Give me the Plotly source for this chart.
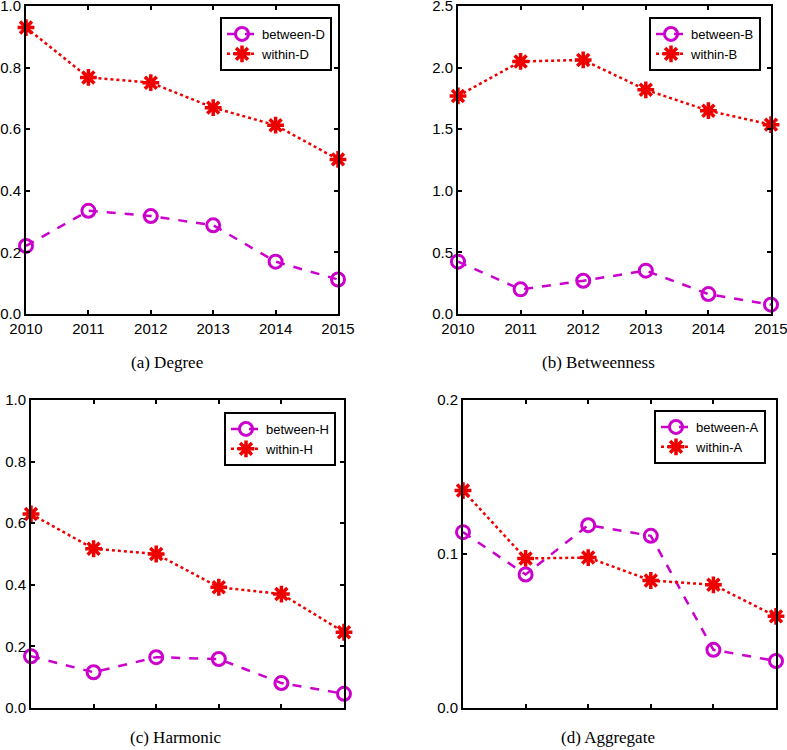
import plotly.graph_objects as go

years = [2010, 2011, 2012, 2013, 2014, 2015]

between_D = [0.221, 0.335, 0.318, 0.288, 0.170, 0.112]
within_D = [0.930, 0.768, 0.751, 0.670, 0.613, 0.502]

between_B = [0.425, 0.200, 0.270, 0.352, 0.162, 0.076]
within_B = [1.770, 2.050, 2.062, 1.820, 1.650, 1.537]

between_H = [0.168, 0.116, 0.165, 0.159, 0.081, 0.046]
within_H = [0.630, 0.517, 0.500, 0.392, 0.370, 0.246]

between_A = [0.1142, 0.0867, 0.1187, 0.1118, 0.0378, 0.0305]
within_A = [0.1412, 0.0971, 0.0977, 0.0828, 0.0800, 0.0595]

panel_titles = ["(a) Degree", "(b) Betweenness", "(c) Harmonic", "(d) Aggregate"]
suffixes = ["D", "B", "H", "A"]
y_ranges = [[0, 1], [0, 2.5], [0, 1], [0, 0.2]]
y_dticks = [0.2, 0.5, 0.2, 0.1]

W, H = 787, 750
MAG = "#cc00cc"
RED = "#ee0000"

# reference pixel boxes: (left, right, top, bottom)
boxes = [(26, 338, 6, 314), (458, 771, 6, 314), (31, 344, 400, 708), (463, 776, 400, 708)]
legend_pos = [(332, 17), (761, 17), (336, 412), (766, 410)]
title_pos = [(167, 362), (598, 362), (176, 737), (608, 737)]


def px(v):
    return v / W


def py(v):
    return 1 - v / H


series = [(between_D, within_D), (between_B, within_B), (between_H, within_H), (between_A, within_A)]

fig = go.Figure()
layout = {}
annotations = []
for i in range(4):
    n = "" if i == 0 else str(i + 1)
    xa, ya = "x" + n, "y" + n
    lg = "legend" + n
    b_vals, w_vals = series[i]
    fig.add_trace(go.Scatter(
        x=years, y=b_vals, mode="lines+markers", name="between-" + suffixes[i],
        xaxis=xa, yaxis=ya, legend=lg, cliponaxis=False,
        line=dict(color=MAG, width=2.5, dash="dash"),
        marker=dict(symbol="circle-open", size=13, color=MAG, line=dict(width=3, color=MAG)),
    ))
    fig.add_trace(go.Scatter(
        x=years, y=w_vals, mode="lines+markers", name="within-" + suffixes[i],
        xaxis=xa, yaxis=ya, legend=lg, cliponaxis=False,
        line=dict(color=RED, width=2.5, dash="dot"),
        marker=dict(symbol="asterisk-open", size=14, color=RED, line=dict(width=3.5, color=RED)),
    ))
    l, r, t, bt = boxes[i]
    show_xlabels = i < 2
    layout["xaxis" + n] = dict(
        domain=[px(l), px(r)], range=[2010, 2015], anchor=ya, automargin=False,
        tickmode="array", tickvals=years, ticktext=[str(y) for y in years] if show_xlabels else [""] * 6,
        ticks="inside", ticklen=4, tickwidth=1.5, tickcolor="black",
        showline=True, linecolor="black", linewidth=2, mirror="ticks",
        showgrid=False, zeroline=False, ticklabeloverflow="allow",
        tickfont=dict(family="Liberation Sans", size=15, color="black"),
    )
    layout["yaxis" + n] = dict(
        domain=[py(bt), py(t)], range=y_ranges[i], anchor=xa, automargin=False,
        dtick=y_dticks[i], tick0=0, tickformat=".1f",
        ticks="inside", ticklen=4, tickwidth=1.5, tickcolor="black",
        showline=True, linecolor="black", linewidth=2, mirror="ticks",
        showgrid=False, zeroline=False, ticklabeloverflow="allow",
        tickfont=dict(family="Liberation Sans", size=15, color="black"),
    )
    lx, ly = legend_pos[i]
    layout[lg] = dict(
        x=px(lx), y=py(ly), xanchor="right", yanchor="top",
        bgcolor="white", bordercolor="black", borderwidth=2,
        font=dict(family="Liberation Sans", size=13, color="black"),
        tracegroupgap=0, itemwidth=30,
    )
    tx, ty = title_pos[i]
    annotations.append(dict(
        text=panel_titles[i], x=px(tx), y=py(ty), xref="paper", yref="paper",
        xanchor="center", yanchor="middle", showarrow=False,
        font=dict(family="Liberation Serif", size=17, color="black"),
    ))

fig.update_layout(
    width=W, height=H, margin=dict(l=0, r=0, t=0, b=0),
    paper_bgcolor="white", plot_bgcolor="white",
    showlegend=True, annotations=annotations, **layout,
)

# remove the page's default 8px body margin so the 787x750 figure fills the window
fig.write_html(
    "out.html",
    config={"displayModeBar": False},
    post_script="document.body.style.margin='0';document.body.style.overflow='hidden';",
)
